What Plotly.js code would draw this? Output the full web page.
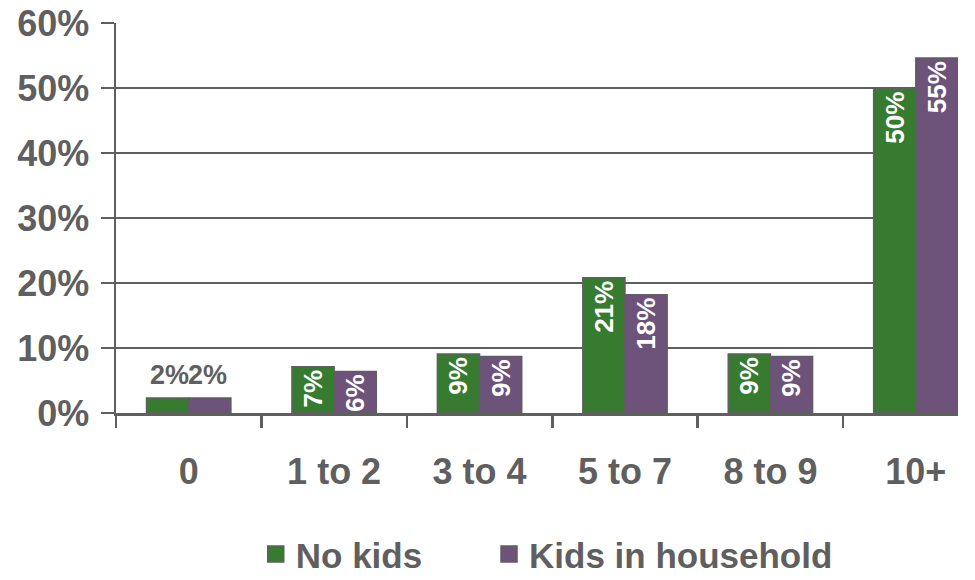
<!DOCTYPE html>
<html>
<head>
<meta charset="utf-8">
<script src="https://cdn.plot.ly/plotly-3.0.1.min.js"></script>
<style>html,body{margin:0;padding:0;background:#fff;}#chart{width:975px;height:580px;}</style>
</head>
<body>
<div id="chart"></div>
<script>
const categories = ['0', '1 to 2', '3 to 4', '5 to 7', '8 to 9', '10+'];
const noKids = [2.3, 7.1, 9.06, 20.8, 9.06, 49.9];
const kidsInHousehold = [2.3, 6.4, 8.7, 18.2, 8.7, 54.6];
const seriesNames = ['No kids', 'Kids in household'];
const yTicks = [0, 10, 20, 30, 40, 50, 60];

const green = '#367b2f';
const purple = '#6d527a';
const outline = '#5f5f5f';
const grey = '#5f5f5f';
const font = 'Liberation Sans, Arial, sans-serif';

function labelTemplates(vals) {
  return vals.map((v, i) => i === 0 ? '' : '%{y:.0f}%');
}

function barTrace(name, vals, color) {
  return {
    type: 'bar', name: name, x: categories, y: vals,
    marker: {color: color, line: {color: outline, width: 1.5}},
    texttemplate: labelTemplates(vals),
    textposition: 'inside', insidetextanchor: 'end', textangle: -90,
    insidetextfont: {family: font, size: 26, color: '#ffffff', weight: 'bold'},
    constraintext: 'none', cliponaxis: false,
    showlegend: false, hoverinfo: 'x+y'
  };
}

function legendTrace(name, color, legendId) {
  return {
    type: 'scatter', mode: 'markers', name: name, x: [null], y: [null],
    marker: {symbol: 'square', size: 16, color: color, line: {color: outline, width: 1.5}},
    showlegend: true, legend: legendId, hoverinfo: 'skip'
  };
}

const data = [
  barTrace(seriesNames[0], noKids, green),
  barTrace(seriesNames[1], kidsInHousehold, purple),
  legendTrace(seriesNames[0], green, 'legend'),
  legendTrace(seriesNames[1], purple, 'legend2')
];

const annotations = [noKids, kidsInHousehold].map((vals, k) => ({
  x: categories[0], y: vals[0], xref: 'x', yref: 'y',
  text: Math.round(vals[0]) + '%', showarrow: false,
  xanchor: 'center', yanchor: 'bottom', xshift: k === 0 ? -19 : 19, yshift: 6,
  font: {family: font, size: 27, color: grey, weight: 'bold'}
}));

function legendBox(xPos) {
  return {
    orientation: 'h', x: xPos, xanchor: 'left', y: -0.362, yanchor: 'middle',
    font: {family: font, size: 35, color: grey, weight: 'bold'},
    itemsizing: 'trace', itemwidth: 30, borderwidth: 0,
    bgcolor: 'rgba(0,0,0,0)'
  };
}

const layout = {
  width: 975, height: 580,
  margin: {l: 116, r: 17, t: 23, b: 167, pad: 0, autoexpand: false},
  paper_bgcolor: '#ffffff', plot_bgcolor: '#ffffff',
  barmode: 'group', bargap: 0.42, bargroupgap: 0,
  font: {family: font, color: grey},
  xaxis: {
    type: 'category', range: [-0.5, 5.29],
    tickson: 'boundaries', ticks: 'outside', ticklen: 12, tickwidth: 2.5, tickcolor: grey,
    showline: true, linecolor: grey, linewidth: 2.5,
    showgrid: false, zeroline: false, automargin: false,
    ticklabelstandoff: 25,
    tickfont: {family: font, size: 36, color: grey, weight: 'bold'}
  },
  yaxis: {
    range: [0, 60], tickvals: yTicks, ticktext: yTicks.map(v => v + '%'),
    ticks: 'outside', ticklen: 13, tickwidth: 2.5, tickcolor: grey,
    showgrid: true, gridcolor: grey, gridwidth: 2.5,
    showline: true, linecolor: grey, linewidth: 2.5,
    zeroline: false, ticklabelstandoff: 4, automargin: false,
    tickfont: {family: font, size: 36, color: grey, weight: 'bold'}
  },
  showlegend: true,
  legend: legendBox(0.166),
  legend2: legendBox(0.443),
  annotations: annotations
};

Plotly.newPlot('chart', data, layout, {displayModeBar: false, staticPlot: true});
</script>
</body>
</html>
